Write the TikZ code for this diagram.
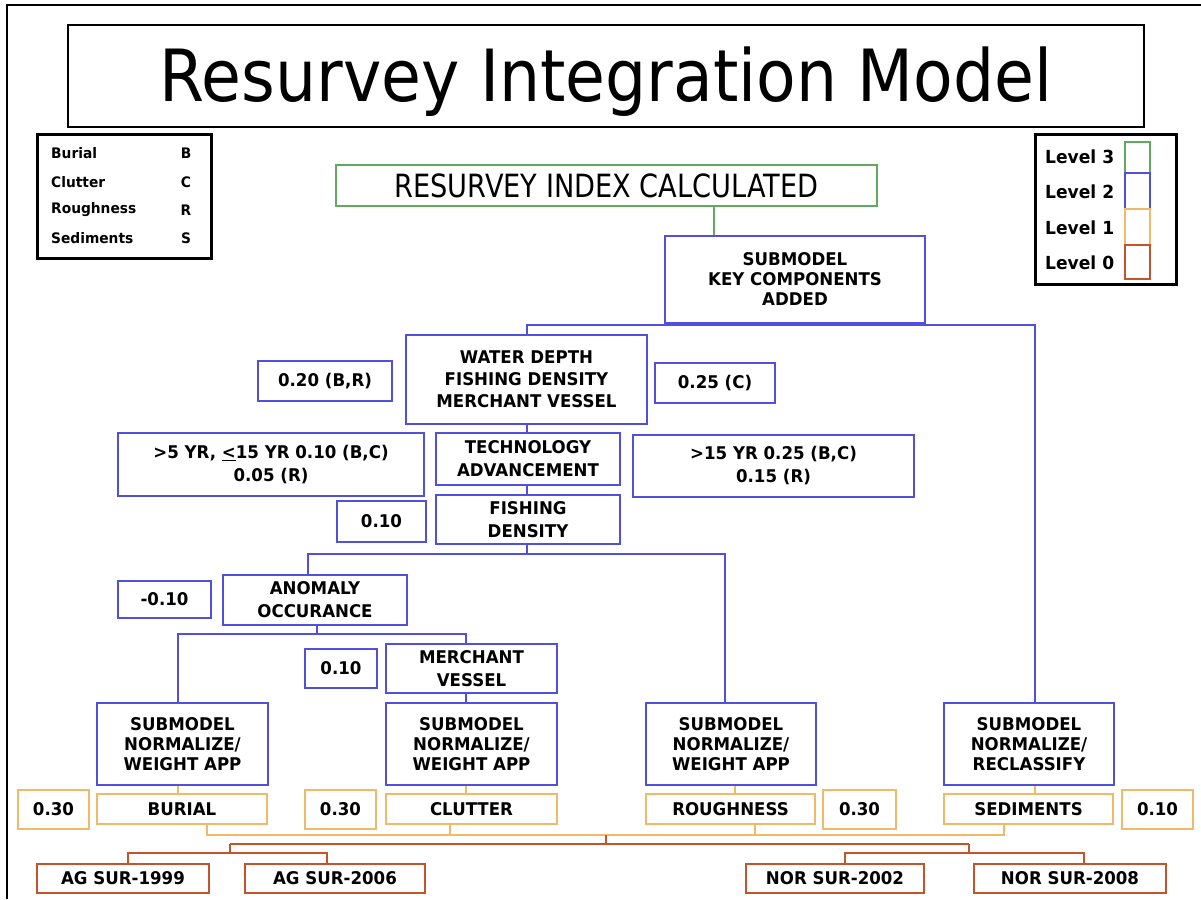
\documentclass[tikz,border=0pt]{standalone}
\usepackage{fontspec}
\setmainfont{DejaVu Sans}
\newfontfamily\titlefont[FakeStretch=0.9]{DejaVu Sans}
\newfontfamily\rifont[FakeStretch=0.85]{DejaVu Sans}
\newfontfamily\boxfamily[FakeStretch=0.95]{DejaVu Sans}
\definecolor{lvgreen}{RGB}{96,170,96}
\definecolor{lvblue}{RGB}{80,80,220}
\definecolor{lvorange}{RGB}{240,186,104}
\definecolor{lvred}{RGB}{196,84,44}
\newcommand{\boxtext}{\boxfamily\bfseries\fontsize{17.5}{20}\selectfont}
\tikzset{
  base/.style={draw, inner sep=0pt, align=center, text=black, font=\boxtext},
  sz/.style 2 args={minimum width=#1pt, minimum height=#2pt},
  gbox/.style={base, draw=lvgreen, line width=2pt},
  bbox/.style={base, draw=lvblue, line width=2pt},
  obox/.style={base, draw=lvorange, line width=1.8pt},
  rbox/.style={base, draw=lvred, line width=1.8pt},
  kbox/.style={base, draw=black, line width=2pt},
  gline/.style={draw=lvgreen, line width=1.6pt},
  bline/.style={draw=lvblue, line width=1.6pt},
  oline/.style={draw=lvorange, line width=1.6pt},
  rline/.style={draw=lvred, line width=1.6pt},
  legtext/.style={font=\boxfamily\bfseries\fontsize{14.5}{16}\selectfont, inner sep=0pt},
  levtext/.style={font=\boxfamily\bfseries\fontsize{18}{20}\selectfont, inner sep=0pt, anchor=west},
}
\begin{document}
\begin{tikzpicture}[x=1pt,y=-1pt]
\fill[white] (0,0) rectangle (1201,899);
\useasboundingbox (0,0) rectangle (1201,899);
\draw[black, line width=2pt] (7,899) -- (7,5) -- (1201,5);

% title
\node[kbox, sz={1076}{102}] (title) at (606,76) {};
\node[anchor=base, inner sep=0pt, font=\titlefont\fontsize{72}{80}\selectfont] (titletext) at (606,101) {Resurvey Integration Model};

% left legend
\node[kbox, line width=3pt, sz={174}{124}] (legL) at (124,196) {};
\node[legtext, anchor=west] (lb) at (51,153) {Burial};
\node[legtext, anchor=west] (lc) at (51,182) {Clutter};
\node[legtext, anchor=west] (lr) at (51,210) {Roughness};
\node[legtext, anchor=west] (ls) at (51,238) {Sediments};
\node[legtext] (lbB) at (186,153) {B};
\node[legtext] (lcC) at (186,182) {C};
\node[legtext] (lrR) at (186,210) {R};
\node[legtext] (lsS) at (186,238) {S};

% right legend
\node[kbox, line width=3pt, sz={141}{150}] (legR) at (1105.5,209) {};
\draw[lvgreen, line width=1.5pt] (1125,142) rectangle (1150,173);
\draw[lvblue, line width=1.5pt] (1125,173) rectangle (1150,209);
\draw[lvorange, line width=1.5pt] (1125,209) rectangle (1150,245);
\draw[lvred, line width=1.5pt] (1125,245) rectangle (1150,279);
\node[levtext] (l3) at (1045,157) {Level 3};
\node[levtext] (l2) at (1045,192) {Level 2};
\node[levtext] (l1) at (1045,228) {Level 1};
\node[levtext] (l0) at (1045,263) {Level 0};

% level 3
\node[gbox, sz={541}{41}, font=\rifont\fontsize{32}{34}\selectfont] (rix) at (606.5,185.5) {RESURVEY INDEX CALCULATED};

% level 2
\node[bbox, sz={260}{87}] (kc) at (795,279.5) {SUBMODEL\\KEY COMPONENTS\\ADDED};
\node[bbox, sz={241}{89}, font=\boxfamily\bfseries\fontsize{17.5}{22}\selectfont] (water) at (526.5,379.5) {WATER DEPTH\\FISHING DENSITY\\MERCHANT VESSEL};
\node[bbox, sz={134}{40}] (p020) at (325,381) {0.20 (B,R)};
\node[bbox, sz={120}{40}] (p025) at (715,383) {0.25 (C)};
\node[bbox, sz={306}{63}, font=\boxfamily\bfseries\fontsize{17.5}{23}\selectfont] (le15) at (271,464.5) {>5 YR, \underline{<}15 YR 0.10 (B,C)\\0.05 (R)};
\node[bbox, sz={184}{52}, font=\boxfamily\bfseries\fontsize{17.5}{23}\selectfont] (tech) at (528,459) {TECHNOLOGY\\ADVANCEMENT};
\node[bbox, sz={281}{62}, font=\boxfamily\bfseries\fontsize{17.5}{23}\selectfont] (gt15) at (773.5,466) {>15 YR 0.25 (B,C)\\0.15 (R)};
\node[bbox, sz={184}{49}, font=\boxfamily\bfseries\fontsize{17.5}{23}\selectfont] (fish) at (528,519.5) {FISHING\\DENSITY};
\node[bbox, sz={89}{41}] (p010a) at (381.5,521) {0.10};
\node[bbox, sz={184}{50}, font=\boxfamily\bfseries\fontsize{17.5}{23}\selectfont] (anom) at (315,600) {ANOMALY\\OCCURANCE};
\node[bbox, sz={93}{37}] (m010) at (164.5,599.5) {-0.10};
\node[bbox, sz={72}{39}] (p010b) at (341,668.5) {0.10};
\node[bbox, sz={171}{49}, font=\boxfamily\bfseries\fontsize{17.5}{23}\selectfont] (merch) at (471.5,668.5) {MERCHANT\\VESSEL};
\node[bbox, sz={171}{82}] (sub1) at (182.5,744) {SUBMODEL\\NORMALIZE/\\WEIGHT APP};
\node[bbox, sz={171}{82}] (sub2) at (471.5,744) {SUBMODEL\\NORMALIZE/\\WEIGHT APP};
\node[bbox, sz={170}{82}] (sub3) at (731,744) {SUBMODEL\\NORMALIZE/\\WEIGHT APP};
\node[bbox, sz={170}{82}] (sub4) at (1029,744) {SUBMODEL\\NORMALIZE/\\RECLASSIFY};

% level 1
\node[obox, sz={71}{39}] (w1) at (53.5,809.5) {0.30};
\node[obox, sz={170}{30}] (burial) at (182,809) {BURIAL};
\node[obox, sz={71}{39}] (w2) at (340.5,809.5) {0.30};
\node[obox, sz={171}{30}] (clutter) at (471.5,809) {CLUTTER};
\node[obox, sz={169}{30}] (rough) at (730.5,809) {ROUGHNESS};
\node[obox, sz={73}{39}] (w3) at (859.5,809.5) {0.30};
\node[obox, sz={169}{30}] (sed) at (1028.5,809) {SEDIMENTS};
\node[obox, sz={71}{39}] (w4) at (1157.5,809.5) {0.10};

% level 0
\node[rbox, sz={172}{29}] (ag99) at (123,878.5) {AG SUR-1999};
\node[rbox, sz={180}{29}] (ag06) at (335,878.5) {AG SUR-2006};
\node[rbox, sz={178}{29}] (nor02) at (835,878.5) {NOR SUR-2002};
\node[rbox, sz={192}{29}] (nor08) at (1070,878.5) {NOR SUR-2008};

% junction coordinates
\coordinate (xg) at (714,0);
\coordinate (xw) at (527,0);
\coordinate (xs4) at (1035,0);
\coordinate (yk) at (0,325);
\coordinate (yf) at (0,554);
\coordinate (xa) at (308,0);
\coordinate (xs3) at (725,0);
\coordinate (xan) at (317,0);
\coordinate (ya) at (0,634);
\coordinate (xs1) at (178,0);
\coordinate (xs2) at (466,0);
\coordinate (xo1) at (207,0);
\coordinate (xo2) at (450,0);
\coordinate (xo3) at (755,0);
\coordinate (xo4) at (1004,0);
\coordinate (xs3b) at (735,0);
\coordinate (yo) at (0,835);
\coordinate (xor) at (606,0);
\coordinate (yr) at (0,844);
\coordinate (xrl) at (230,0);
\coordinate (xrr) at (969,0);
\coordinate (yl) at (0,853);
\coordinate (xa1) at (128,0);
\coordinate (xa2) at (327,0);
\coordinate (xn1) at (845,0);
\coordinate (xn2) at (1084,0);

% green connector
\draw[gline] (rix.south -| xg) -- (kc.north -| xg);

% blue connectors
\draw[bline] (kc.south) -- (kc.south |- yk);
\draw[bline] (water.north -| xw) -- (xw |- yk) -- (xs4 |- yk) -- (sub4.north -| xs4);
\draw[bline] (water.south -| xw) -- (tech.north -| xw);
\draw[bline] (tech.south -| xw) -- (fish.north -| xw);
\draw[bline] (fish.south -| xw) -- (xw |- yf);
\draw[bline] (anom.north -| xa) -- (xa |- yf) -- (xs3 |- yf) -- (sub3.north -| xs3);
\draw[bline] (anom.south -| xan) -- (xan |- ya);
\draw[bline] (sub1.north -| xs1) -- (xs1 |- ya) -- (xs2 |- ya) -- (merch.north -| xs2);
\draw[bline] (merch.south -| xs2) -- (sub2.north -| xs2);

% orange connectors
\draw[oline] (sub1.south -| xs1) -- (burial.north -| xs1);
\draw[oline] (sub2.south -| xs2) -- (clutter.north -| xs2);
\draw[oline] (sub3.south -| xs3b) -- (rough.north -| xs3b);
\draw[oline] (sub4.south -| xs4) -- (sed.north -| xs4);
\draw[oline] (burial.south -| xo1) -- (xo1 |- yo) -- (xo4 |- yo) -- (sed.south -| xo4);
\draw[oline] (clutter.south -| xo2) -- (xo2 |- yo);
\draw[oline] (rough.south -| xo3) -- (xo3 |- yo);

% red connectors
\draw[rline] (xor |- yo) -- (xor |- yr);
\draw[rline] (xrl |- yr) -- (xrr |- yr);
\draw[rline] (xrl |- yr) -- (xrl |- yl);
\draw[rline] (ag99.north -| xa1) -- (xa1 |- yl) -- (xa2 |- yl) -- (ag06.north -| xa2);
\draw[rline] (xrr |- yr) -- (xrr |- yl);
\draw[rline] (nor02.north -| xn1) -- (xn1 |- yl) -- (xn2 |- yl) -- (nor08.north -| xn2);
\end{tikzpicture}
\end{document}
